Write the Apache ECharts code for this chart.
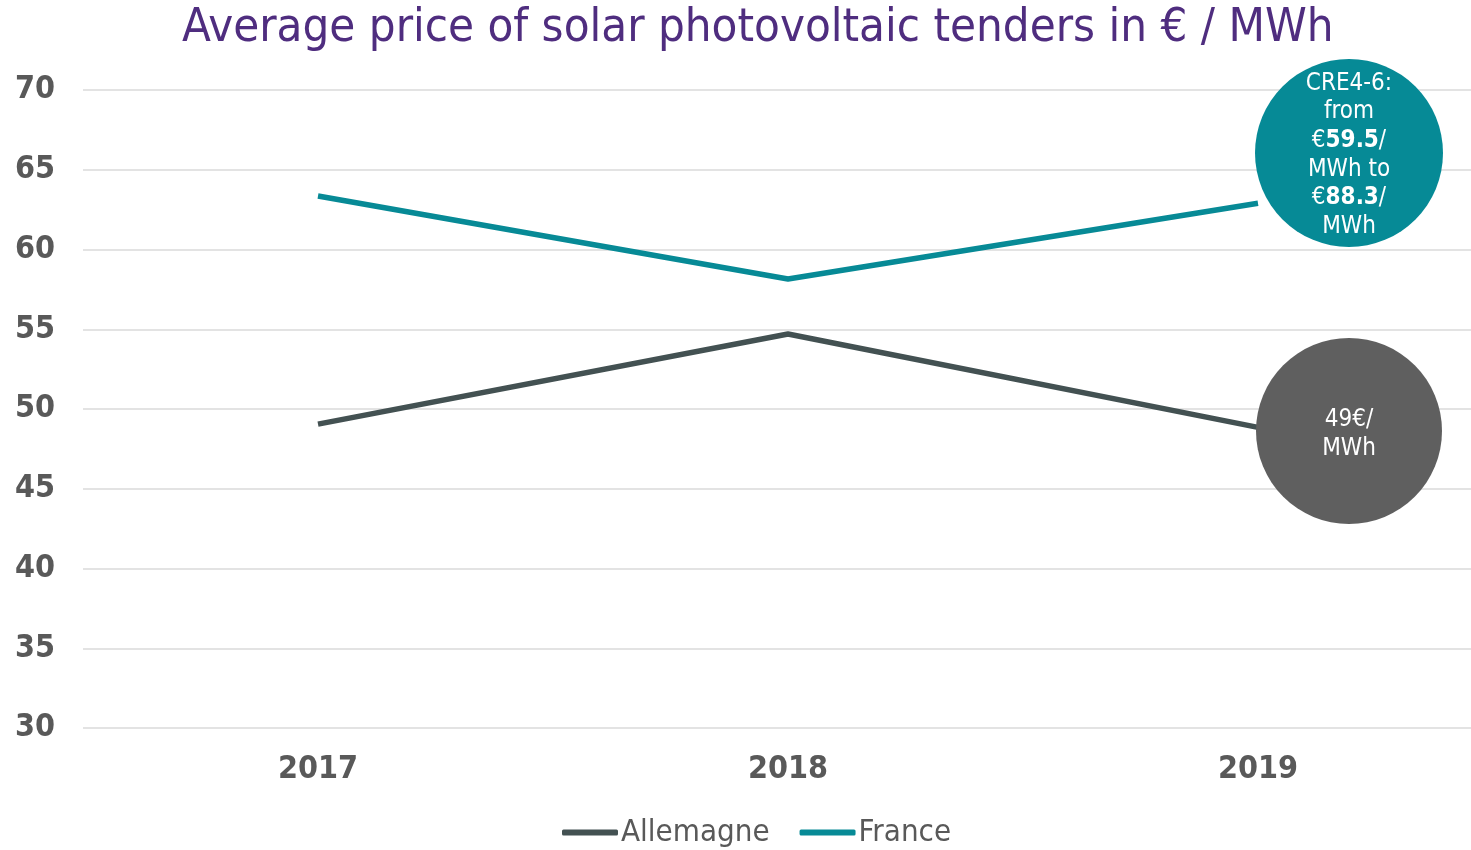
<!DOCTYPE html>
<html><head><meta charset="utf-8">
<script src="https://cdn.jsdelivr.net/npm/echarts@6/dist/echarts.min.js"></script>
<style>html,body{margin:0;padding:0;background:#fff}#c{width:1471px;height:850px}</style>
</head><body><div id="c"></div>
<script>
const years = ['2017', '2018', '2019'];
const allemagne = [49.05, 54.7, 48.85];
const france = [63.35, 58.15, 62.9];
const yTicks = [30, 35, 40, 45, 50, 55, 60, 65, 70];
const seriesNames = ['Allemagne', 'France'];

const FONT = '"DejaVu Sans Condensed", "DejaVu Sans", sans-serif';
const chart = echarts.init(document.getElementById('c'));
chart.setOption({
  animation: false,
  backgroundColor: '#fff',
  textStyle: { fontFamily: FONT },
  title: {
    text: 'Average price of solar photovoltaic tenders in € / MWh',
    left: 177, top: 0,
    textStyle: { color: '#4F2D7F', fontSize: 47, fontWeight: 'normal', fontFamily: FONT }
  },
  legend: {
    top: 812, left: 557,
    data: seriesNames,
    icon: 'roundRect', itemWidth: 56, itemHeight: 6, itemGap: 30,
    textStyle: { color: '#595959', fontSize: 31, fontFamily: FONT, padding: [0, 0, 0, -2] }
  },
  grid: { left: 83, width: 1410, top: 90, height: 638, outerBoundsMode: 'none', containLabel: false },
  xAxis: {
    type: 'category', data: years, boundaryGap: true,
    axisLine: { show: false }, axisTick: { show: false },
    axisLabel: { color: '#595959', fontSize: 32, fontWeight: 'bold', margin: 26, fontFamily: FONT }
  },
  yAxis: {
    type: 'value', min: yTicks[0], max: yTicks[yTicks.length - 1], interval: 5,
    axisLine: { show: false }, axisTick: { show: false },
    splitLine: { lineStyle: { color: '#E3E3E3', width: 2 } },
    axisLabel: { color: '#595959', fontSize: 32, fontWeight: 'bold', margin: 28, fontFamily: FONT, padding: [6, 0, 0, 0] }
  },
  series: [
    { name: seriesNames[0], type: 'line', data: allemagne, symbol: 'none',
      color: '#435152', lineStyle: { width: 5.5, color: '#435152' } },
    { name: seriesNames[1], type: 'line', data: france, symbol: 'none',
      color: '#078A96', lineStyle: { width: 5.5, color: '#078A96' } }
  ],
  graphic: [
    { type: 'circle', z: 100, shape: { cx: 1349, cy: 153, r: 94 }, style: { fill: '#068A96' } },
    { type: 'text', z: 101, x: 1349, y: 155, style: {
        text: 'CRE4-6:\nfrom\n€{b|59.5}/\nMWh to\n€{b|88.3}/\nMWh',
        align: 'center', verticalAlign: 'middle', fill: '#fff', fontSize: 24, lineHeight: 28.6, fontFamily: FONT,
        rich: { b: { fontWeight: 'bold', fontSize: 24, fill: '#fff', lineHeight: 28.6, fontFamily: FONT } }
    } },
    { type: 'circle', z: 100, shape: { cx: 1349, cy: 431, r: 93 }, style: { fill: '#5F5F5F' } },
    { type: 'text', z: 101, x: 1349, y: 434, style: {
        text: '49€/\nMWh', align: 'center', verticalAlign: 'middle', fill: '#fff', fontSize: 24, lineHeight: 28.6, fontFamily: FONT
    } }
  ]
});
</script></body></html>
